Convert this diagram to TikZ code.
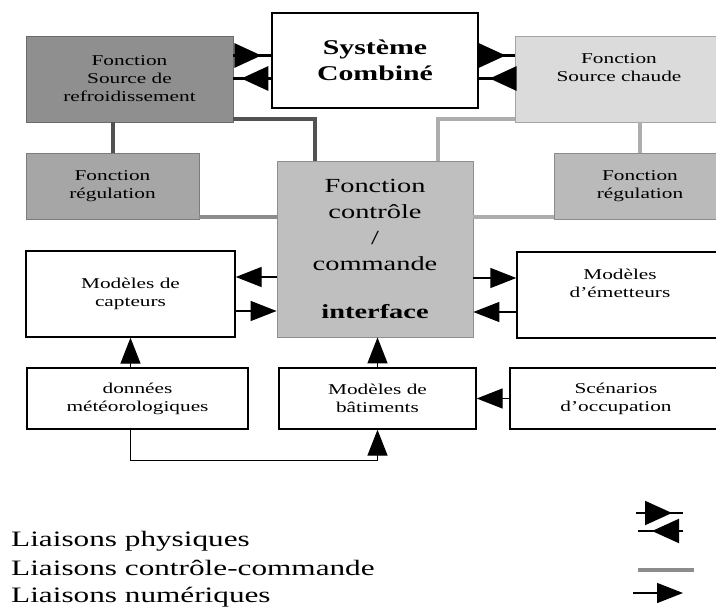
\documentclass[tikz,border=0pt]{standalone}
\usepackage{fontspec}
\setmainfont{Liberation Serif}[FakeStretch=1.42]
\usetikzlibrary{arrows.meta,decorations.markings}
\definecolor{refcol}{gray}{0.56}
\definecolor{chaudecol}{gray}{0.86}
\definecolor{reglcol}{gray}{0.65}
\definecolor{regrcol}{gray}{0.73}
\definecolor{ctrlcol}{gray}{0.75}
\definecolor{darklink}{gray}{0.32}
\definecolor{midlink}{gray}{0.55}
\definecolor{lightlink}{gray}{0.68}
\tikzset{
    box/.style={draw,line width=1.4pt,align=center,inner sep=0pt,
        font=\fontsize{15}{18}\selectfont},
    shaded/.style={box,line width=0.8pt,draw=#1!75!black,fill=#1},
    numlink/.style={line width=1.4pt,-{Triangle[length=26pt,width=20pt]}},
    ctrllink/.style={line width=4pt,draw=#1},
    physlink/.style={line width=3pt,
        postaction={decorate,decoration={markings,
            mark=at position #1 with {\arrow{Triangle[length=27pt,width=24pt]}}}}},
    legend/.style={anchor=base west,inner sep=0pt,font=\fontsize{22}{26}\selectfont},
}

\begin{document}
\begin{tikzpicture}[x=1pt,y=-1pt]
\useasboundingbox[fill=white] (0,0) rectangle (716,610);

% boites du haut
\node[box,minimum width=206pt,minimum height=95pt,
    font=\fontsize{21}{26}\selectfont\bfseries] (sys) at (375,60.5) {Système\\Combiné};
\node[shaded=refcol,minimum width=207pt,minimum height=86pt] (refroid) at (129.5,79)
    {Fonction\\Source de\\refroidissement};
\node[shaded=chaudecol,minimum width=208pt,minimum height=86pt] (chaude) at (619,79)
    {Fonction\\Source chaude\\\strut};
\node[shaded=reglcol,minimum width=173pt,minimum height=66pt] (regl) at (112.5,186)
    {Fonction\\régulation};
\node[shaded=regrcol,minimum width=172pt,minimum height=66pt] (regr) at (640,186)
    {Fonction\\régulation};
\node[shaded=ctrlcol,minimum width=196pt,minimum height=176pt,
    font=\fontsize{20}{26}\selectfont] (ctrl) at (375,249)
    {Fonction\\contrôle\\/\\commande\\[22pt]\textbf{interface}};

% modeles
\node[box,minimum width=209pt,minimum height=86pt] (capt) at (130.5,294) {Modèles de\\capteurs};
\node[box,minimum width=206pt,minimum height=86pt] (emet) at (620,295) {Modèles\\d'émetteurs\\\strut};
\node[box,minimum width=221pt,minimum height=61pt] (donn) at (137.5,398.5) {données\\météorologiques};
\node[box,minimum width=197pt,minimum height=61pt] (bat) at (377.5,398.5) {Modèles de\\bâtiments};
\node[box,minimum width=212pt,minimum height=61pt] (scen) at (616,398.5) {Scénarios\\d'occupation};

% liaisons physiques
\coordinate (sw1) at ([yshift=5pt]sys.west);
\coordinate (sw2) at ([yshift=-18pt]sys.west);
\coordinate (se1) at ([yshift=5pt]sys.east);
\coordinate (se2) at ([yshift=-18pt]sys.east);
\draw[physlink=28pt] (sw1 -| refroid.east) -- (sw1);
\draw[physlink=30pt] (sw2) -- (sw2 -| refroid.east);
\draw[physlink=27pt] (se1) -- (se1 -| chaude.west);
\draw[physlink=25pt] (se2 -| chaude.west) -- (se2);

% liaisons controle-commande
\draw[ctrllink=darklink] ([yshift=3pt]refroid.south east) -| ([xshift=-60pt]ctrl.north);
\draw[ctrllink=lightlink] ([yshift=3pt]chaude.south west) -| ([xshift=63pt]ctrl.north);
\draw[ctrllink=darklink] (regl.north) -- (regl.north |- refroid.south);
\draw[ctrllink=lightlink] (regr.north) -- (regr.north |- chaude.south);
\coordinate (rl) at ([yshift=2pt]regl.south east);
\coordinate (rr) at ([yshift=2pt]regr.south west);
\draw[ctrllink=midlink] (rl) -- (rl -| ctrl.west);
\draw[ctrllink=lightlink] (rr) -- (rr -| ctrl.east);

% liaisons numeriques
\coordinate (ca) at ([yshift=17pt]capt.east);
\coordinate (cb) at ([yshift=-17pt]capt.east);
\coordinate (ea) at ([yshift=17pt]emet.west);
\coordinate (eb) at ([yshift=-17pt]emet.west);
\draw[numlink] (ca -| ctrl.west) -- (ca);
\draw[numlink] (cb) -- (cb -| ctrl.west);
\draw[numlink] (ea -| ctrl.east) -- (ea);
\draw[numlink] (eb) -- (eb -| ctrl.east);
\draw[numlink] (capt.south |- donn.north) -- (capt.south);
\draw[numlink] (bat.north) -- (bat.north |- ctrl.south);
\draw[numlink] (scen.west) -- (bat.east);
\draw[numlink] (capt.south |- donn.south) -- ++(0,31) -| (bat.south);

% legende
\node[legend] (lphys) at (11,546) {Liaisons physiques};
\node[legend] (lctrl) at (11,575) {Liaisons contrôle-commande};
\node[legend] (lnum) at (11,602) {Liaisons numériques};
\coordinate (lp1) at (636,513);
\coordinate (lp2) at (683,513);
\coordinate (lp3) at (683,531);
\coordinate (lp4) at (638,531);
\draw[physlink=36pt,line width=2pt] (lp1) -- (lp2);
\draw[physlink=31pt,line width=2pt] (lp3) -- (lp4);
\coordinate (lc1) at (638,570);
\coordinate (lc2) at (694,570);
\draw[ctrllink=midlink] (lc1) -- (lc2);
\coordinate (ln1) at (633,593);
\coordinate (ln2) at (683,593);
\draw[numlink] (ln1) -- (ln2);
\end{tikzpicture}
\end{document}
